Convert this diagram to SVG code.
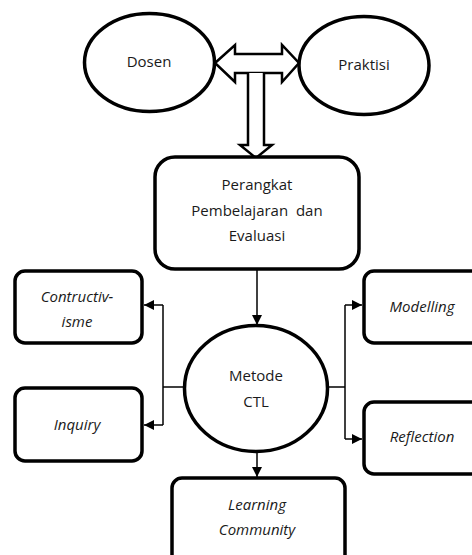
<svg xmlns="http://www.w3.org/2000/svg" width="472" height="555" viewBox="0 0 472 555">
<style>
.n{fill:#fff;stroke:#000;stroke-width:3.5}
.t{font-family:"Open Sans","Liberation Sans",sans-serif;font-size:15px;fill:#1a1a1a;text-anchor:middle}
.i{font-style:italic}
.c{fill:none;stroke:#000;stroke-width:1.5}
.big{fill:#fff;stroke:#000;stroke-width:2.5;stroke-linejoin:miter}
</style>
<defs>
<marker id="ah" viewBox="0 0 10 10" refX="10" refY="5" markerWidth="10" markerHeight="10" markerUnits="userSpaceOnUse" orient="auto">
<path d="M0,0 L10,5 L0,10 z" fill="#000"/>
</marker>
</defs>
<rect width="472" height="555" fill="#fff"/>
<g id="connectors">
<polygon class="big" points="215,63 235,45 235,54 282,54 282,45 299,63 282,82 282,73 235,73 235,82"/>
<path class="big" d="M248,73 L248,145 L240,145 L256,158 L272,145 L264,145 L264,73"/>
<line class="c" x1="257" y1="270" x2="257" y2="325" marker-end="url(#ah)"/>
<polyline class="c" points="184,387 163,387"/>
<polyline class="c" points="163,305 163,425"/>
<line class="c" x1="163" y1="305" x2="144" y2="305" marker-end="url(#ah)"/>
<line class="c" x1="163" y1="425" x2="144" y2="425" marker-end="url(#ah)"/>
<polyline class="c" points="328,387 345,387"/>
<polyline class="c" points="345,305 345,439"/>
<line class="c" x1="345" y1="305" x2="362" y2="305" marker-end="url(#ah)"/>
<line class="c" x1="345" y1="439" x2="362" y2="439" marker-end="url(#ah)"/>
<line class="c" x1="257" y1="452" x2="257" y2="477" marker-end="url(#ah)"/>
</g>
<g id="dosen">
<ellipse class="n" cx="149.5" cy="62.5" rx="65" ry="49"/>
<text class="t" x="149" y="67">Dosen</text>
</g>
<g id="praktisi">
<ellipse class="n" cx="364" cy="65.5" rx="65" ry="49"/>
<text class="t" x="364" y="70">Praktisi</text>
</g>
<g id="perangkat">
<rect class="n" x="155" y="157" width="204" height="112" rx="20"/>
<text class="t" x="257" y="190">Perangkat</text>
<text class="t" x="257" y="216" xml:space="preserve">Pembelajaran  dan</text>
<text class="t" x="257" y="241">Evaluasi</text>
</g>
<g id="contructivisme">
<rect class="n" x="15" y="271" width="127" height="72" rx="10"/>
<text class="t i" x="77" y="302">Contructiv-</text>
<text class="t i" x="77" y="327">isme</text>
</g>
<g id="inquiry">
<rect class="n" x="15" y="388" width="127" height="73" rx="10"/>
<text class="t i" x="77" y="430">Inquiry</text>
</g>
<g id="metode">
<ellipse class="n" cx="256" cy="388.5" rx="71.5" ry="63"/>
<text class="t" x="256" y="381">Metode</text>
<text class="t" x="256" y="407">CTL</text>
</g>
<g id="modelling">
<rect class="n" x="364" y="271" width="120" height="72" rx="10"/>
<text class="t i" x="422" y="312">Modelling</text>
</g>
<g id="reflection">
<rect class="n" x="364" y="402" width="120" height="72" rx="10"/>
<text class="t i" x="422" y="442">Reflection</text>
</g>
<g id="learning">
<rect class="n" x="172" y="478" width="173" height="90" rx="10"/>
<text class="t i" x="257" y="510">Learning</text>
<text class="t i" x="257" y="535">Community</text>
</g>
</svg>
